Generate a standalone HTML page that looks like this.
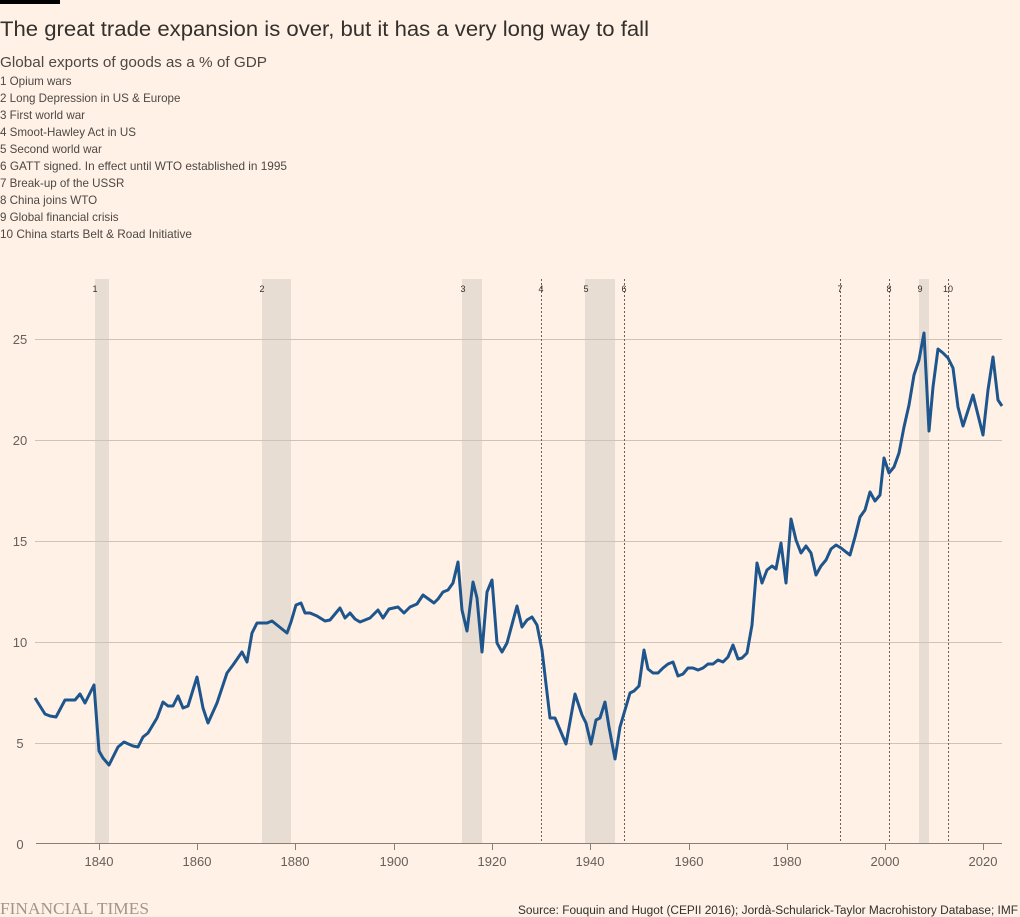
<!DOCTYPE html>
<html><head><meta charset="utf-8"><style>
body{margin:0;background:#fff1e5;width:1020px;height:917px;overflow:hidden;font-family:"Liberation Sans",sans-serif}
</style></head><body>
<svg width="1020" height="917" xmlns="http://www.w3.org/2000/svg" style="position:absolute;left:0;top:0">
<rect x="0" y="0" width="60" height="4" fill="#000"/>
<text x="0" y="36" font-size="21" fill="#33302e" textLength="649" lengthAdjust="spacingAndGlyphs">The great trade expansion is over, but it has a very long way to fall</text>
<text x="0" y="67" font-size="15" fill="#4d4845" textLength="267" lengthAdjust="spacingAndGlyphs">Global exports of goods as a % of GDP</text>
<g font-size="11.6" fill="#4d4845">
<text x="0" y="85">1 Opium wars</text>
<text x="0" y="102">2 Long Depression in US &amp; Europe</text>
<text x="0" y="119">3 First world war</text>
<text x="0" y="136">4 Smoot-Hawley Act in US</text>
<text x="0" y="153">5 Second world war</text>
<text x="0" y="170" textLength="287" lengthAdjust="spacingAndGlyphs">6 GATT signed. In effect until WTO established in 1995</text>
<text x="0" y="187">7 Break-up of the USSR</text>
<text x="0" y="204">8 China joins WTO</text>
<text x="0" y="221">9 Global financial crisis</text>
<text x="0" y="238" textLength="192" lengthAdjust="spacingAndGlyphs">10 China starts Belt &amp; Road Initiative</text>
</g>
<g fill="#e8ddd2">
<rect x="95" y="279" width="14" height="565"/>
<rect x="262" y="279" width="29" height="565"/>
<rect x="462" y="279" width="20" height="565"/>
<rect x="585" y="279" width="30" height="565"/>
<rect x="919" y="279" width="10" height="565"/>
</g>
<g stroke="#cfc2b6" stroke-width="1">
<line x1="35" x2="1002" y1="339.5" y2="339.5"/>
<line x1="35" x2="1002" y1="440.5" y2="440.5"/>
<line x1="35" x2="1002" y1="541.5" y2="541.5"/>
<line x1="35" x2="1002" y1="642.5" y2="642.5"/>
<line x1="35" x2="1002" y1="743.5" y2="743.5"/>
</g>
<g stroke="#66605c" stroke-width="1" stroke-dasharray="2,2">
<line x1="541.5" x2="541.5" y1="279" y2="844"/>
<line x1="624.5" x2="624.5" y1="279" y2="844"/>
<line x1="840.5" x2="840.5" y1="279" y2="844"/>
<line x1="889.5" x2="889.5" y1="279" y2="844"/>
<line x1="948.5" x2="948.5" y1="279" y2="844"/>
</g>
<g font-size="9" fill="#33302e" text-anchor="middle">
<text x="95" y="292">1</text><text x="262" y="292">2</text><text x="463" y="292">3</text><text x="541" y="292">4</text><text x="586" y="292">5</text><text x="624" y="292">6</text><text x="840" y="292">7</text><text x="889" y="292">8</text><text x="920" y="292">9</text><text x="948" y="292">10</text>
</g>
<line x1="36" x2="1002" y1="843.5" y2="843.5" stroke="#8a7d72" stroke-width="1"/>
<g stroke="#8a7d72"><line x1="99.5" x2="99.5" y1="844" y2="850"/><line x1="197.5" x2="197.5" y1="844" y2="850"/><line x1="295.5" x2="295.5" y1="844" y2="850"/><line x1="394.5" x2="394.5" y1="844" y2="850"/><line x1="492.5" x2="492.5" y1="844" y2="850"/><line x1="590.5" x2="590.5" y1="844" y2="850"/><line x1="689.5" x2="689.5" y1="844" y2="850"/><line x1="787.5" x2="787.5" y1="844" y2="850"/><line x1="885.5" x2="885.5" y1="844" y2="850"/><line x1="983.5" x2="983.5" y1="844" y2="850"/></g>
<g font-size="13" fill="#66605c" text-anchor="middle">
<text x="99" y="866">1840</text><text x="197" y="866">1860</text><text x="295" y="866">1880</text><text x="394" y="866">1900</text><text x="492" y="866">1920</text><text x="590" y="866">1940</text><text x="689" y="866">1960</text><text x="787" y="866">1980</text><text x="885" y="866">2000</text><text x="983" y="866">2020</text>
</g>
<g font-size="13" fill="#66605c" text-anchor="middle">
<text x="20" y="849">0</text><text x="20" y="748">5</text><text x="20" y="647">10</text><text x="20" y="546">15</text><text x="20" y="445">20</text><text x="20" y="344">25</text>
</g>
<polyline fill="none" stroke="#1e558c" stroke-width="3" stroke-linejoin="round" points="35,698 45,714 50,716 56,717 65,700 75,700 80,694 85,703 94,685 99,751 103,758 109,765 118,747 124,742 133,746 138,747 143,737 148,733 157,718 163,702 168,706 173,706 178,696 183,708 188,706 197,677 203,708 208,723 217,703 227,673 233,665 242,652 247,662 252,633 257,623 267,623 272,621 287,633 291,622 296,605 301,603 305,613 310,613 317,616 325,621 330,620 340,608 345,618 350,613 355,619 360,622 370,618 378,610 383,618 389,609 398,607 404,613 410,607 417,604 423,595 434,603 438,599 443,592 448,590 453,583 458,562 462,610 467,631 473,582 477,598 482,652 487,592 492,580 497,643 502,652 507,643 517,606 522,627 527,620 532,617 537,625 542,650 550,718 555,718 566,744 575,694 582,715 586,723 591,744 596,720 600,718 605,702 609,727 615,759 620,727 630,693 634,691 639,686 644,650 648,669 653,673 658,673 663,668 668,664 673,662 678,676 683,674 688,668 693,668 698,670 703,668 708,664 713,664 718,660 723,662 728,657 733,645 738,659 742,658 747,653 752,625 757,563 762,583 767,570 772,566 776,569 781,543 786,583 791,519 796,540 801,553 806,546 811,553 816,575 821,566 826,560 831,549 836,545 841,548 846,552 850,555 855,537 860,517 865,510 870,492 875,501 880,495 884,458 889,473 894,467 899,453 904,427 909,405 914,375 919,360 924,333 929,431 933,387 938,349 943,353 948,358 953,368 958,407 963,426 973,395 983,435 988,390 993,357 998,400 1002,406"/>
<text x="0" y="914" font-family="Liberation Serif,serif" font-size="17" fill="#a3958a" textLength="149" lengthAdjust="spacingAndGlyphs">FINANCIAL TIMES</text>
<text x="518" y="914" font-size="11.5" fill="#33302e" textLength="500" lengthAdjust="spacingAndGlyphs">Source: Fouquin and Hugot (CEPII 2016); Jordà-Schularick-Taylor Macrohistory Database; IMF</text>
</svg>
</body></html>
